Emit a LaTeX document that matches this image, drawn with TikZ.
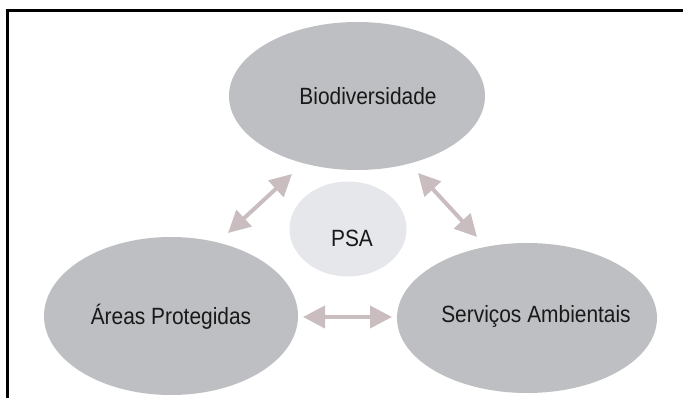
\documentclass[tikz,border=0pt]{standalone}
\usepackage{fontspec}
\setmainfont{Liberation Sans}
\usetikzlibrary{shapes.geometric,arrows.meta}
\definecolor{blobgray}{RGB}{189,191,194}
\definecolor{psagray}{RGB}{229,231,234}
\definecolor{arrowpink}{RGB}{201,189,191}
\definecolor{labeltext}{RGB}{25,25,25}

\begin{document}
\begin{tikzpicture}[x=1pt,y=1pt,
    blob/.style={ellipse,fill=blobgray,inner sep=0pt},
    lbl/.style={anchor=base,inner sep=0pt,text=labeltext,xscale=0.89,transform shape,
      font=\fontsize{23.5}{28}\selectfont},
    link/.style={arrowpink,line width=4pt,
      {Triangle[length=22pt,width=22pt]}-{Triangle[length=22pt,width=22pt]}}]
    \useasboundingbox (0,0) rectangle (683,-398);
    \draw [black,line width=2.3pt] (7.5,-398) -- (7.5,-10.5) -- (683,-10.5);
    \node (bio) [blob,minimum width=256pt,minimum height=148pt] at (357,-96) {};
    \node (areas) [blob,minimum width=254pt,minimum height=158pt] at (171,-316) {};
    \node (serv) [blob,minimum width=260pt,minimum height=150pt] at (527,-318) {};
    \node (psa) [ellipse,fill=psagray,inner sep=0pt,minimum width=117pt,minimum height=95pt] at (348,-229) {};
    \node (biotext) [lbl] at (368,-105) {Biodiversidade};
    \node (areastext) [lbl] at (171,-324) {Áreas Protegidas};
    \node (servtext) [lbl] at (536,-322) {Serviços Ambientais};
    \node (psatext) [lbl] at (352,-247) {PSA};
    \coordinate (l1) at (228,-233);
    \coordinate (l2) at (292,-174);
    \coordinate (r1) at (418,-173);
    \coordinate (r2) at (477,-237);
    \coordinate (b1) at (303,-317);
    \coordinate (b2) at (392,-317);
    \draw [link] (l1) -- (l2);
    \draw [link] (r1) -- (r2);
    \draw [link] (b1) -- (b2);
\end{tikzpicture}
\end{document}
